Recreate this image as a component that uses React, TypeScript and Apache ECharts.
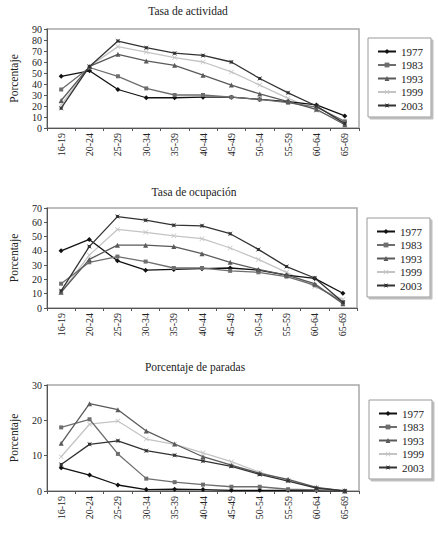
import React, { useEffect, useRef } from "react";
import * as echarts from "echarts";

const categories = ["16-19", "20-24", "25-29", "30-34", "35-39", "40-44", "45-49", "50-54", "55-59", "60-64", "65-69"];
const years = ["1977", "1983", "1993", "1999", "2003"];

const actividad1977 = [47, 52, 35, 27.5, 27.5, 28, 28, 26, 24, 21, 11];
const actividad1983 = [35, 55, 47, 36, 30, 30, 28, 26, 23, 19, 6];
const actividad1993 = [25, 56, 67, 61, 57, 48, 39, 31, 24, 17, 3];
const actividad1999 = [21, 56, 74, 69, 64, 60, 51, 39, 27, 16, 5];
const actividad2003 = [18, 56, 79, 73, 68, 66, 60, 45, 32, 20, 4];

const ocupacion1977 = [40, 48, 33, 26.5, 27, 27.5, 28, 26.5, 23, 20.7, 10.3];
const ocupacion1983 = [17, 32, 36, 32.5, 28, 28, 26, 25, 22, 16, 4];
const ocupacion1993 = [11, 34, 44, 44, 43, 38, 32, 27, 23, 17, 3];
const ocupacion1999 = [11, 37, 55, 53, 50.5, 48.5, 42, 34, 25, 15, 6];
const ocupacion2003 = [12, 43, 64, 61.5, 58, 57.5, 52, 41, 29, 21, 4];

const paradas1977 = [6.6, 4.5, 1.7, 0.4, 0.5, 0.4, 0.2, 0.2, 0.2, 0.1, 0];
const paradas1983 = [18, 20.3, 10.5, 3.5, 2.5, 1.8, 1.2, 1.2, 0.5, 0.3, 0];
const paradas1993 = [13.5, 24.7, 23, 17, 13.3, 9.7, 7.3, 5, 3.3, 1, 0];
const paradas1999 = [9.7, 18.9, 19.8, 14.7, 13.2, 10.8, 8.3, 5.3, 3, 0.9, 0];
const paradas2003 = [7.5, 13.2, 14.2, 11.4, 10.1, 8.5, 7, 4.7, 2.8, 0.8, 0];

const titles = ["Tasa de actividad", "Tasa de ocupación", "Porcentaje de paradas"];
const yMax = [90, 70, 30];
const yInterval = [10, 10, 10];
const yAxisName = "Porcentaje";

const FONT = "Liberation Serif";

const seriesStyles = [
  { color: "#111111", symbol: "diamond", size: 5 },
  { color: "#6e6e6e", symbol: "rect", size: 4 },
  { color: "#5a5a5a", symbol: "triangle", size: 5 },
  { color: "#c4c4c4", symbol: "path://M0,1L1,0L5,4L9,0L10,1L6,5L10,9L9,10L5,6L1,10L0,9L4,5Z", size: 5 },
  { color: "#333333", symbol: "path://M0,0L3,2L7,2L10,0L8,3L8,7L10,10L7,8L3,8L0,10L2,7L2,3Z", size: 5 },
];

const grids = [
  { left: 40, top: 29, width: 319, height: 99 },
  { left: 39, top: 208, width: 318, height: 100 },
  { left: 41, top: 385, width: 318, height: 106 },
];
const titlePos = [
  { x: 188, y: 5 },
  { x: 194, y: 186 },
  { x: 195, y: 361 },
];
const legendPos = [
  { x: 368, y: 38 },
  { x: 367, y: 218 },
  { x: 369, y: 400 },
];

export default function App() {
  const ref = useRef<HTMLDivElement>(null);
  useEffect(() => {
    if (!ref.current) return;
    const chart = echarts.init(ref.current, null, { renderer: "svg" });
    const data = [
      [actividad1977, actividad1983, actividad1993, actividad1999, actividad2003],
      [ocupacion1977, ocupacion1983, ocupacion1993, ocupacion1999, ocupacion2003],
      [paradas1977, paradas1983, paradas1993, paradas1999, paradas2003],
    ];
    const series: any[] = [];
    data.forEach((group, gi) => {
      group.forEach((vals, si) => {
        const st = seriesStyles[si];
        series.push({
          type: "line",
          name: years[si],
          xAxisIndex: gi,
          yAxisIndex: gi,
          data: vals,
          symbol: st.symbol,
          symbolSize: st.size,
          showAllSymbol: true,
          lineStyle: { color: st.color, width: 1.3 },
          itemStyle: { color: st.color },
          z: si === 3 ? 1 : 2,
        });
      });
    });
    const option: any = {
      animation: false,
      backgroundColor: "#ffffff",
      textStyle: { fontFamily: FONT },
      title: titles.map((t, i) => ({
        text: t,
        left: titlePos[i].x,
        top: titlePos[i].y,
        textAlign: "center",
        padding: 0,
        textStyle: { fontFamily: FONT, fontSize: 11.5, fontWeight: "normal", color: "#222" },
      })),
      legend: legendPos.map((p, i) => ({
        data: years,
        orient: "vertical",
        left: p.x,
        top: p.y,
        itemWidth: 18,
        itemHeight: 6,
        itemGap: 2.5,
        padding: [8, 8, 6, 9],
        borderColor: "#9a9a9a",
        borderWidth: 1,
        backgroundColor: "#ffffff",
        shadowColor: "rgba(0,0,0,0.25)",
        shadowOffsetX: 2,
        shadowOffsetY: 2,
        shadowBlur: 0,
        selectedMode: false,
        textStyle: { fontFamily: FONT, fontSize: 11, color: "#222", lineHeight: 11 },
      })),
      grid: grids.map((g) => ({
        left: g.left,
        top: g.top,
        width: g.width,
        height: g.height,
        show: true,
        borderColor: "#a8a8a8",
        borderWidth: 1.5,
        backgroundColor: "#ffffff",
      })),
      xAxis: grids.map((_, i) => ({
        type: "category",
        gridIndex: i,
        data: categories,
        boundaryGap: true,
        axisLine: { lineStyle: { color: "#555" } },
        axisTick: { show: true, length: 3, lineStyle: { color: "#555" } },
        axisLabel: { rotate: 90, interval: 0, fontSize: 10, fontFamily: FONT, color: "#222", margin: 5 },
        splitLine: { show: false },
      })),
      yAxis: grids.map((_, i) => ({
        type: "value",
        gridIndex: i,
        min: 0,
        max: yMax[i],
        interval: yInterval[i],
        name: yAxisName,
        nameLocation: "middle",
        nameGap: 27,
        nameTextStyle: { fontFamily: FONT, fontSize: 11.5, color: "#222" },
        axisLine: { show: true, lineStyle: { color: "#555" } },
        axisTick: { show: true, length: 3, lineStyle: { color: "#555" } },
        axisLabel: { fontSize: 10, fontFamily: FONT, color: "#222", margin: 5 },
        splitLine: { show: false },
      })),
      series,
    };
    chart.setOption(option);
    return () => chart.dispose();
  }, []);
  return (
    <div
      ref={ref}
      style={{ position: "absolute", left: 0, top: 0, width: 438, height: 535, background: "#fff" }}
    />
  );
}
